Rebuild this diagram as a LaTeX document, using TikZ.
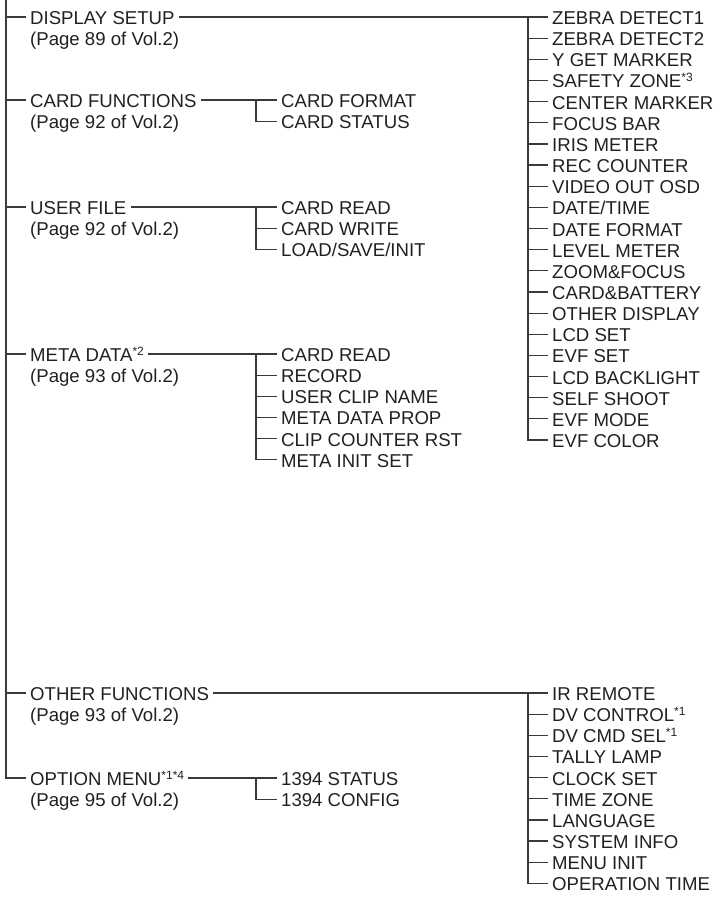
\documentclass[tikz,border=0pt]{standalone}
\usepackage{fontspec}
\setmainfont{Liberation Sans}
\usetikzlibrary{calc}
\definecolor{menuInk}{HTML}{231F20}
\definecolor{menuLine}{HTML}{3A3A3A}
\newcommand\menupitch{21.15}
\newcommand\noteref[1]{\raisebox{6pt}{\fontsize{12}{12}\selectfont*#1}}

\begin{document}
\begin{tikzpicture}[x=1pt,y=-1pt,
  item/.style={anchor=west,inner xsep=4pt,inner ysep=0pt,text height=15pt,text depth=0pt,font=\fontsize{18.6}{21}\selectfont,text=menuInk},
  tree/.style={draw=menuLine,line width=1.2pt}
]
  \useasboundingbox (0,0) rectangle (718,898);
  % main menu column
  \coordinate (top) at (6,0);
  \node[item] (disp) at (26,17) {DISPLAY SETUP};
  \node[item] (dispp) at (26,17+\menupitch) {(Page 89 of Vol.2)};
  \node[item] (cardf) at (26,100) {CARD FUNCTIONS};
  \node[item] (cardfp) at (26,100+\menupitch) {(Page 92 of Vol.2)};
  \node[item] (userf) at (26,207) {USER FILE};
  \node[item] (userfp) at (26,207+\menupitch) {(Page 92 of Vol.2)};
  \node[item] (meta) at (26,354) {META DATA\noteref{2}};
  \node[item] (metap) at (26,354+\menupitch) {(Page 93 of Vol.2)};
  \node[item] (other) at (26,693) {OTHER FUNCTIONS};
  \node[item] (otherp) at (26,693+\menupitch) {(Page 93 of Vol.2)};
  \node[item] (option) at (26,778) {OPTION MENU\noteref{1}\noteref{4}};
  \node[item] (optionp) at (26,778+\menupitch) {(Page 95 of Vol.2)};
  \draw[tree] (top) |- (option.west);
  \foreach \n in {disp,cardf,userf,meta,other}
    \draw[tree] (top |- \n.west) -- (\n.west);

  % DISPLAY SETUP
  \foreach \t [count=\i from 0] in {ZEBRA DETECT1,ZEBRA DETECT2,Y GET MARKER,SAFETY ZONE\noteref{3},CENTER MARKER,FOCUS BAR,IRIS METER,REC COUNTER,VIDEO OUT OSD,DATE/TIME,DATE FORMAT,LEVEL METER,ZOOM\&FOCUS,CARD\&BATTERY,OTHER DISPLAY,LCD SET,EVF SET,LCD BACKLIGHT,SELF SHOOT,EVF MODE,EVF COLOR}
    \node[item] (dsp\i) at (548,{17+\menupitch*\i}) {\t};
  \coordinate (dspj) at (528,17);
  \draw[tree] (disp.east) -- (dsp0.west);
  \draw[tree] (dspj) |- (dsp20.west);
  \foreach \i in {1,...,19}
    \draw[tree] (dspj |- dsp\i.west) -- (dsp\i.west);

  % CARD FUNCTIONS
  \foreach \t [count=\i from 0] in {CARD FORMAT,CARD STATUS}
    \node[item] (crd\i) at (277,{100+\menupitch*\i}) {\t};
  \coordinate (crdj) at (256,100);
  \draw[tree] (cardf.east) -- (crd0.west);
  \draw[tree] (crdj) |- (crd1.west);

  % USER FILE
  \foreach \t [count=\i from 0] in {CARD READ,CARD WRITE,LOAD/SAVE/INIT}
    \node[item] (usr\i) at (277,{207+\menupitch*\i}) {\t};
  \coordinate (usrj) at (256,207);
  \draw[tree] (userf.east) -- (usr0.west);
  \draw[tree] (usrj) |- (usr2.west);
  \draw[tree] (usrj |- usr1.west) -- (usr1.west);

  % META DATA
  \foreach \t [count=\i from 0] in {CARD READ,RECORD,USER CLIP NAME,META DATA PROP,CLIP COUNTER RST,META INIT SET}
    \node[item] (mta\i) at (277,{354+\menupitch*\i}) {\t};
  \coordinate (mtaj) at (256,354);
  \draw[tree] (meta.east) -- (mta0.west);
  \draw[tree] (mtaj) |- (mta5.west);
  \foreach \i in {1,...,4}
    \draw[tree] (mtaj |- mta\i.west) -- (mta\i.west);

  % OTHER FUNCTIONS
  \foreach \t [count=\i from 0] in {IR REMOTE,DV CONTROL\noteref{1},DV CMD SEL\noteref{1},TALLY LAMP,CLOCK SET,TIME ZONE,LANGUAGE,SYSTEM INFO,MENU INIT,OPERATION TIME}
    \node[item] (oth\i) at (548,{693+\menupitch*\i}) {\t};
  \coordinate (othj) at (528,693);
  \draw[tree] (other.east) -- (oth0.west);
  \draw[tree] (othj) |- (oth9.west);
  \foreach \i in {1,...,8}
    \draw[tree] (othj |- oth\i.west) -- (oth\i.west);

  % OPTION MENU
  \foreach \t [count=\i from 0] in {1394 STATUS,1394 CONFIG}
    \node[item] (opt\i) at (277,{778+\menupitch*\i}) {\t};
  \coordinate (optj) at (256,778);
  \draw[tree] (option.east) -- (opt0.west);
  \draw[tree] (optj) |- (opt1.west);
\end{tikzpicture}
\end{document}
